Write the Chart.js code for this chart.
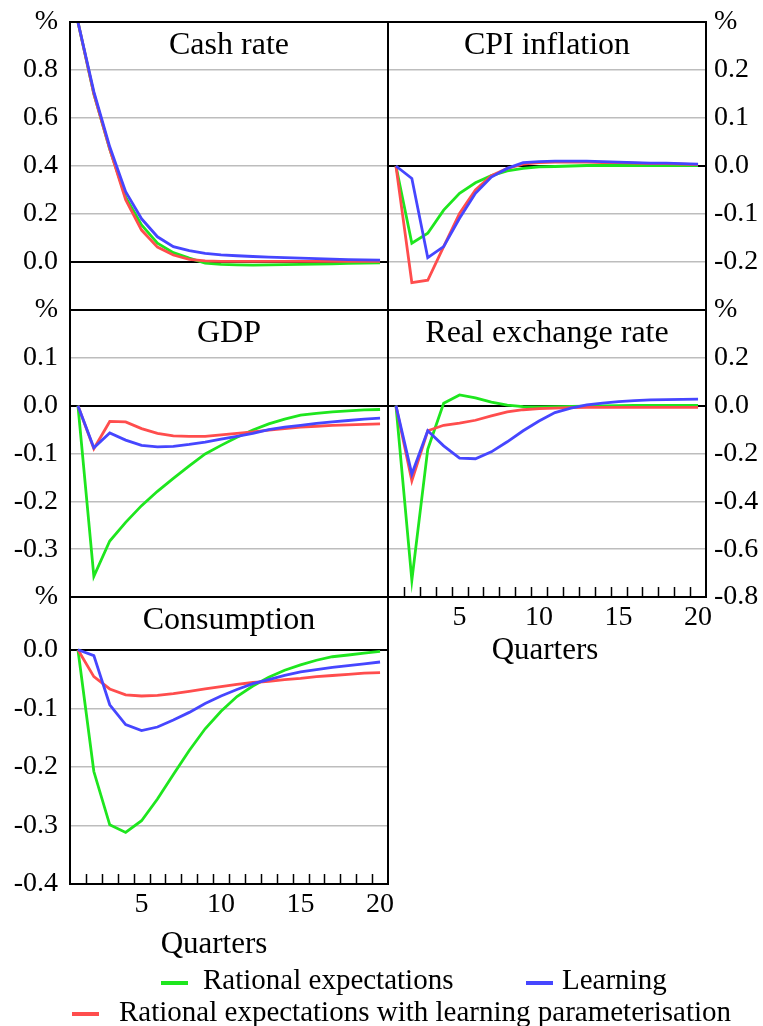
<!DOCTYPE html>
<html lang="en">
<head>
<meta charset="UTF-8">
<title>Responses to a cash rate shock</title>
<script src="https://cdn.jsdelivr.net/npm/chart.js"></script>
<style>
  body { margin: 0; background: #fff; width: 763px; height: 1026px; position: relative; overflow: hidden; font-family: "Liberation Serif", serif; }
  canvas { position: absolute; }
  .leg { position: absolute; font-size: 29px; line-height: 29px; white-space: nowrap; color: #000; }
  .sw { position: absolute; width: 27px; height: 4px; }
</style>
</head>
<body>
<canvas id="cash" width="400" height="330" style="left:0;top:0"></canvas>
<canvas id="cpi" width="387" height="330" style="left:376px;top:0"></canvas>
<canvas id="gdp" width="400" height="330" style="left:0;top:290px"></canvas>
<canvas id="rer" width="387" height="400" style="left:376px;top:290px"></canvas>
<canvas id="cons" width="400" height="400" style="left:0;top:577px"></canvas>

<div class="sw" style="left:161px;top:981px;background:#1ee61e"></div>
<div class="leg" style="left:203px;top:965px">Rational expectations</div>
<div class="sw" style="left:526px;top:981px;background:#4646ff"></div>
<div class="leg" style="left:562px;top:965px">Learning</div>
<div class="sw" style="left:72px;top:1012px;background:#ff4d4d"></div>
<div class="leg" style="left:119px;top:997px">Rational expectations with learning parameterisation</div>

<script>
// quarters after the shock
const quarters = ['1','2','3','4','5','6','7','8','9','10','11','12','13','14','15','16','17','18','19','20'];

// RE = rational expectations, REL = RE with learning parameterisation, L = learning
const cashRE  = [1.0, 0.70, 0.47, 0.27, 0.154, 0.078, 0.039, 0.016, -0.005, -0.010, -0.012, -0.013, -0.012, -0.011, -0.010, -0.009, -0.008, -0.006, -0.005, -0.004];
const cashREL = [1.0, 0.70, 0.47, 0.26, 0.133, 0.062, 0.029, 0.011, 0.005, 0.003, 0.003, 0.003, 0.003, 0.003, 0.003, 0.003, 0.003, 0.003, 0.003, 0.003];
const cashL   = [1.0, 0.71, 0.48, 0.293, 0.18, 0.105, 0.064, 0.047, 0.036, 0.030, 0.026, 0.023, 0.020, 0.018, 0.016, 0.014, 0.012, 0.010, 0.009, 0.008];

const cpiRE  = [0, -0.161, -0.140, -0.092, -0.057, -0.035, -0.020, -0.010, -0.005, -0.002, -0.001, 0, 0.001, 0.001, 0.001, 0.001, 0.001, 0.001, 0.001, 0.001];
const cpiREL = [0, -0.243, -0.238, -0.168, -0.099, -0.050, -0.020, -0.005, 0.004, 0.007, 0.008, 0.008, 0.008, 0.007, 0.007, 0.006, 0.005, 0.005, 0.004, 0.003];
const cpiL   = [0, -0.026, -0.191, -0.168, -0.109, -0.057, -0.023, -0.005, 0.007, 0.009, 0.010, 0.010, 0.010, 0.009, 0.008, 0.007, 0.006, 0.006, 0.005, 0.004];

const gdpRE  = [0, -0.357, -0.283, -0.244, -0.209, -0.179, -0.152, -0.126, -0.101, -0.083, -0.066, -0.051, -0.038, -0.028, -0.020, -0.016, -0.013, -0.011, -0.009, -0.008];
const gdpREL = [0, -0.090, -0.033, -0.034, -0.048, -0.058, -0.063, -0.064, -0.064, -0.061, -0.058, -0.055, -0.051, -0.048, -0.045, -0.043, -0.041, -0.040, -0.039, -0.038];
const gdpL   = [0, -0.088, -0.057, -0.072, -0.083, -0.086, -0.085, -0.081, -0.076, -0.070, -0.064, -0.058, -0.050, -0.045, -0.041, -0.037, -0.034, -0.031, -0.028, -0.026];

const rerRE  = [0, -0.73, -0.182, 0.010, 0.045, 0.033, 0.015, 0.002, -0.004, -0.005, -0.004, -0.003, -0.002, -0.001, 0, 0.001, 0.001, 0.001, 0.001, 0.001];
const rerREL = [0, -0.314, -0.105, -0.082, -0.073, -0.061, -0.043, -0.026, -0.017, -0.012, -0.010, -0.008, -0.007, -0.007, -0.007, -0.007, -0.007, -0.007, -0.007, -0.007];
const rerL   = [0, -0.286, -0.105, -0.168, -0.219, -0.222, -0.193, -0.151, -0.105, -0.064, -0.029, -0.010, 0.003, 0.011, 0.017, 0.021, 0.024, 0.025, 0.026, 0.027];

const consRE  = [0, -0.208, -0.299, -0.312, -0.292, -0.255, -0.213, -0.172, -0.135, -0.105, -0.080, -0.062, -0.047, -0.035, -0.026, -0.018, -0.012, -0.009, -0.006, -0.003];
const consREL = [0, -0.046, -0.067, -0.077, -0.079, -0.078, -0.075, -0.071, -0.067, -0.063, -0.059, -0.056, -0.054, -0.051, -0.049, -0.046, -0.044, -0.042, -0.040, -0.039];
const consL   = [0, -0.010, -0.094, -0.128, -0.138, -0.132, -0.120, -0.107, -0.092, -0.079, -0.068, -0.058, -0.051, -0.044, -0.038, -0.034, -0.030, -0.027, -0.024, -0.021];

// y tick values per panel (top one is shown as "%")
const cashTicks = [-0.2, 0, 0.2, 0.4, 0.6, 0.8, 1.0];
const cpiTicks  = [-0.3, -0.2, -0.1, 0, 0.1, 0.2, 0.3];
const gdpTicks  = [-0.4, -0.3, -0.2, -0.1, 0, 0.1, 0.2];
const rerTicks  = [-0.8, -0.6, -0.4, -0.2, 0, 0.2, 0.4];
const consTicks = [-0.4, -0.3, -0.2, -0.1, 0, 0.09];

const GREEN = '#1ee61e', BLUE = '#4646ff', RED = '#ff4d4d';
const FONT = 'Liberation Serif';

// frame, inward tick marks, panel title and "Quarters"
const panelDecor = {
    id: 'panelDecor',
    afterDatasetsDraw(chart, args, opts) {
        const { ctx, chartArea: a } = chart;
        const x = chart.scales.x;
        ctx.save();
        ctx.strokeStyle = '#000';
        ctx.lineWidth = 2;
        ctx.strokeRect(a.left, a.top, a.right - a.left, a.bottom - a.top);
        if (opts.marks) {
            ctx.lineWidth = 1.5;
            ctx.beginPath();
            for (let i = 0; i < quarters.length - 1; i++) {
                const px = Math.round((x.getPixelForValue(i) + x.getPixelForValue(i + 1)) / 2) + 0.5;
                ctx.moveTo(px, a.bottom);
                ctx.lineTo(px, a.bottom - 10);
            }
            ctx.stroke();
        }
        ctx.fillStyle = '#000';
        ctx.textAlign = 'center';
        ctx.textBaseline = 'alphabetic';
        ctx.font = '32px "' + FONT + '"';
        ctx.fillText(opts.title, (a.left + a.right) / 2, a.top + 32);
        if (opts.xTitle) {
            ctx.font = '31px "' + FONT + '"';
            ctx.fillText('Quarters', (a.left + a.right) / 2 + opts.xTitle.dx, a.bottom + opts.xTitle.dy);
        }
        ctx.restore();
    }
};

function fmt(v) {
    return Math.abs(v) < 1e-9 ? '0.0' : v.toFixed(1);
}

// keep the plot frame where the layout padding puts it
function noEdgePadding(s) {
    s.paddingTop = 0;
    s.paddingBottom = 0;
    s.paddingLeft = 0;
    s.paddingRight = 0;
}

function panel(id, p) {
    const left = p.side === 'left';
    new Chart(document.getElementById(id), {
        type: 'line',
        data: {
            labels: quarters,
            datasets: [
                { label: 'Learning', data: p.l, borderColor: BLUE },
                { label: 'Rational expectations with learning parameterisation', data: p.rel, borderColor: RED },
                { label: 'Rational expectations', data: p.re, borderColor: GREEN }
            ].map(d => Object.assign(d, { borderWidth: 2.8, pointRadius: 0, tension: 0, fill: false }))
        },
        options: {
            responsive: false,
            animation: false,
            devicePixelRatio: 1,
            layout: { padding: p.padding },
            plugins: {
                legend: { display: false },
                tooltip: { enabled: false },
                panelDecor: { title: p.title, marks: p.showX, xTitle: p.xTitle }
            },
            scales: {
                x: {
                    type: 'category',
                    offset: true,
                    grid: { display: false, drawTicks: false },
                    border: { display: false },
                    ticks: {
                        display: p.showX,
                        autoSkip: false,
                        maxRotation: 0,
                        padding: 4,
                        color: '#000',
                        font: { family: FONT, size: 28 },
                        callback: function (v, i) { return (i + 1) % 5 === 0 ? this.getLabelForValue(v) : ''; }
                    },
                    afterFit: s => { noEdgePadding(s); s.height = p.showX ? 60 : 0; }
                },
                y: {
                    position: p.side,
                    min: p.ticks[0],
                    max: p.ticks[p.ticks.length - 1],
                    afterBuildTicks: s => { s.ticks = p.ticks.map(v => ({ value: v })); },
                    afterFit: s => { noEdgePadding(s); s.width = left ? 70 : 57; },
                    border: { display: false },
                    grid: {
                        drawTicks: false,
                        color: c => (c.tick && Math.abs(c.tick.value) < 1e-9) ? '#000' : '#bdbdbd',
                        lineWidth: c => (c.tick && Math.abs(c.tick.value) < 1e-9) ? 2 : 1.5
                    },
                    ticks: {
                        padding: left ? 12 : 8,
                        color: '#000',
                        font: { family: FONT, size: 28 },
                        callback: v => {
                            if (v === p.ticks[p.ticks.length - 1]) return '%';
                            if (v === p.ticks[0] && p.hideMin) return '';
                            return fmt(v);
                        }
                    }
                }
            }
        },
        plugins: [panelDecor]
    });
}

panel('cash', { title: 'Cash rate', side: 'left', re: cashRE, rel: cashREL, l: cashL, ticks: cashTicks, hideMin: true, showX: false,
    padding: { top: 22, bottom: 20, left: 0, right: 12 } });
panel('cpi', { title: 'CPI inflation', side: 'right', re: cpiRE, rel: cpiREL, l: cpiL, ticks: cpiTicks, hideMin: true, showX: false,
    padding: { top: 22, bottom: 20, left: 12, right: 0 } });
panel('gdp', { title: 'GDP', side: 'left', re: gdpRE, rel: gdpREL, l: gdpL, ticks: gdpTicks, hideMin: true, showX: false,
    padding: { top: 20, bottom: 23, left: 0, right: 12 } });
panel('rer', { title: 'Real exchange rate', side: 'right', re: rerRE, rel: rerREL, l: rerL, ticks: rerTicks, hideMin: false, showX: true,
    xTitle: { dx: -2, dy: 62 }, padding: { top: 20, bottom: 33, left: 12, right: 0 } });
panel('cons', { title: 'Consumption', side: 'left', re: consRE, rel: consREL, l: consL, ticks: consTicks, hideMin: false, showX: true,
    xTitle: { dx: -15, dy: 69 }, padding: { top: 20, bottom: 33, left: 0, right: 12 } });
</script>
</body>
</html>
